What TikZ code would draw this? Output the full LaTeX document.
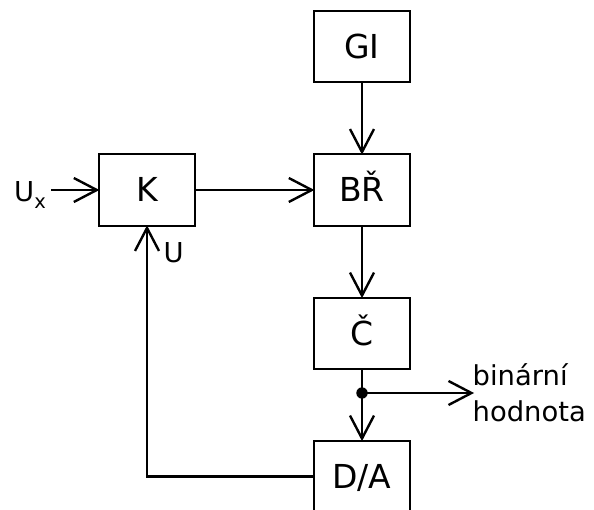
\documentclass[tikz,border=0pt]{standalone}
\usepackage{fontspec}
\setmainfont{DejaVu Sans}
\usetikzlibrary{arrows.meta}
\pgfdeclarearrow{
  name=OpenHead,
  setup code={\pgfarrowssettipend{0pt}\pgfarrowssetlineend{-1.2pt}\pgfarrowssetbackend{-24pt}\pgfarrowssetvisualbackend{-24pt}\pgfarrowshullpoint{0pt}{0pt}\pgfarrowsupperhullpoint{-24pt}{12pt}},
  drawing code={\pgfsetdash{}{0pt}\pgfsetmiterjoin\pgfsetbuttcap\pgfsetlinewidth{2.4pt}
    \pgfpathmoveto{\pgfqpoint{-24pt}{12pt}}\pgfpathlineto{\pgfqpoint{-1pt}{0pt}}\pgfpathlineto{\pgfqpoint{-24pt}{-12pt}}\pgfusepathqstroke}
}
\begin{document}
\begin{tikzpicture}[x=1pt,y=-1pt,
  blockbox/.style={draw,line width=2.4pt,minimum width=96pt,minimum height=71.5pt,inner sep=0pt,text height=24pt,text depth=0pt,font=\fontsize{33}{33}\selectfont},
  conn/.style={line width=2.4pt,-OpenHead},
  lbl/.style={inner sep=0pt,font=\fontsize{27.4}{30}\selectfont}]
\useasboundingbox (0,0) rectangle (594,510);
\fill[white] (0,0) rectangle (594,510);
\node[blockbox] (gi) at (362,46.5) {GI};
\node[blockbox] (br) at (362,190) {BŘ};
\node[blockbox] (c) at (362,333.5) {Č};
\node[blockbox] (da) at (362,476.5) {D/A};
\node[blockbox] (k) at (147,190) {K};
\coordinate (ux) at (51,190);
\coordinate (bin) at (472.5,393);
\coordinate (j) at (362,393);
\coordinate (corner) at (147,476.5);
\draw[conn] (gi) -- (br);
\draw[conn] (ux) -- (k);
\draw[conn] (k) -- (br);
\draw[conn] (br) -- (c);
\draw[conn] (c) -- (da);
\draw[conn] (j) -- (bin);
\draw[conn] (da.west) -- (corner) -- (k.south);
\fill (j) circle (5.7pt);
\node[lbl,anchor=base west] (uxl) at (14,201.7) {U\raisebox{-6.5pt}{\fontsize{19.5}{19.5}\selectfont x}};
\node[lbl,anchor=base west] (ul) at (163.5,263) {U};
\node[lbl,anchor=base west] (b1) at (472.5,385) {binární};
\node[lbl,anchor=base west] (b2) at (472.5,421.7) {hodnota};
\end{tikzpicture}
\end{document}
